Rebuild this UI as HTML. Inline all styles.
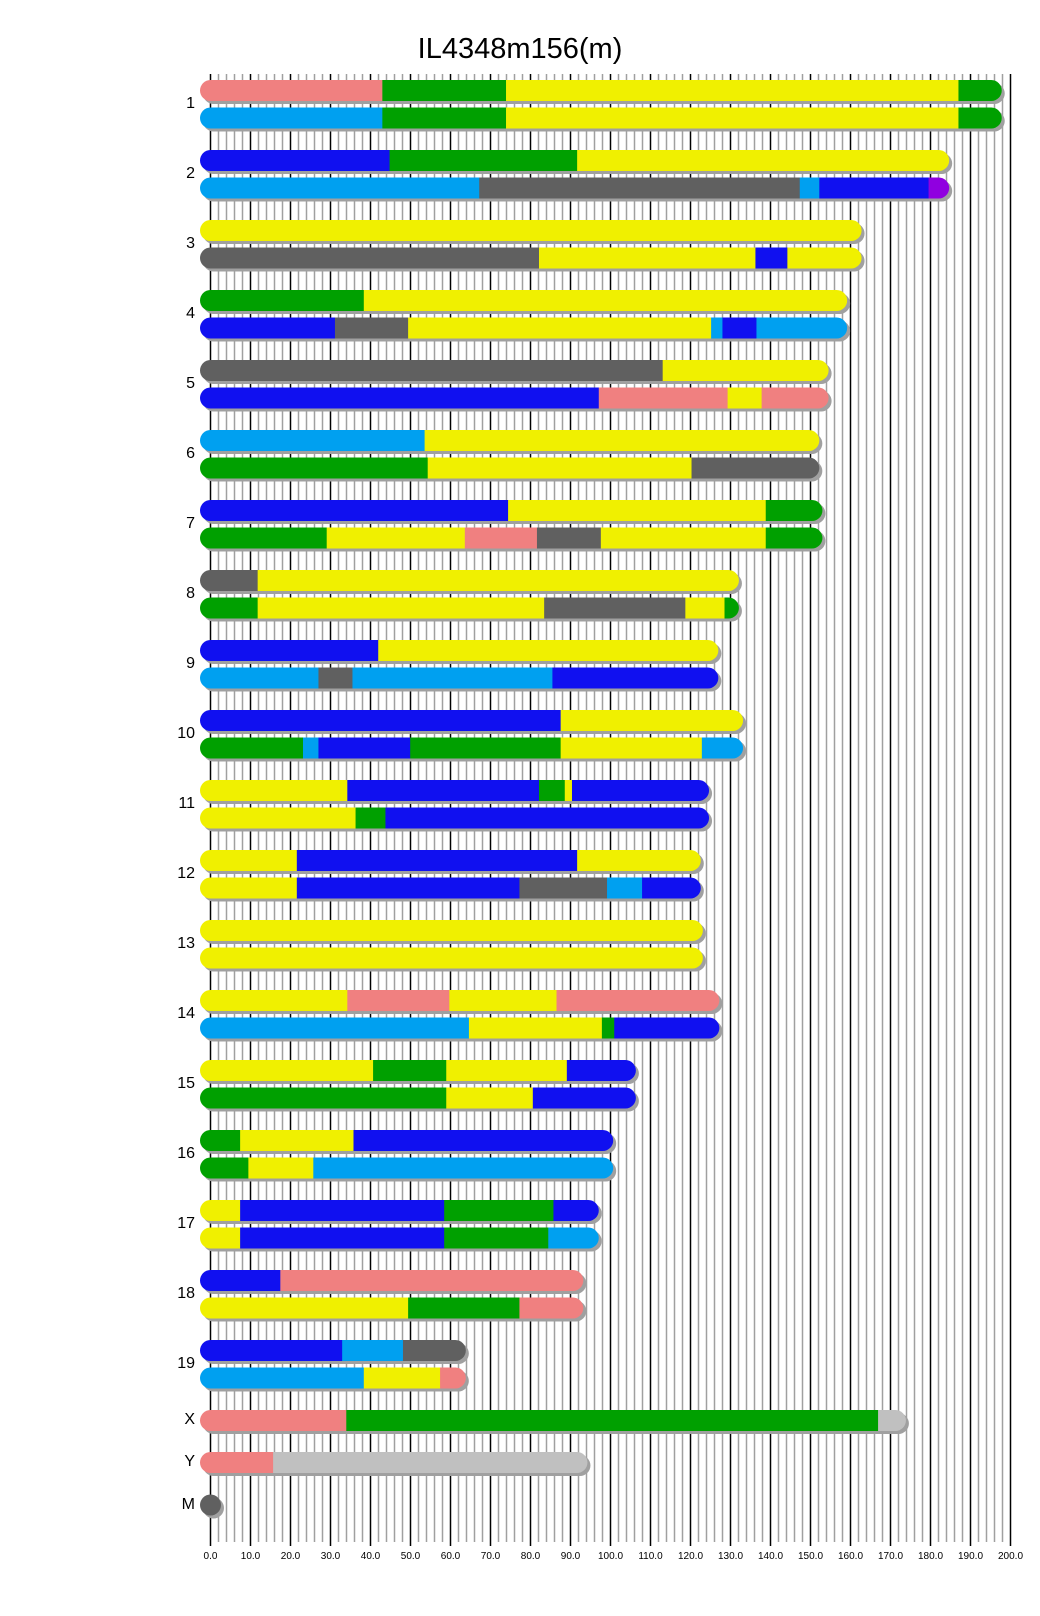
<!DOCTYPE html>
<html><head><meta charset="utf-8"><style>
html,body{margin:0;padding:0;background:#fff;}
svg{display:block;font-family:"Liberation Sans",Arial,sans-serif;}
</style></head><body>
<svg id="s" width="1040" height="1616" xmlns="http://www.w3.org/2000/svg">
<text x="520" y="58" font-size="29" text-anchor="middle" fill="#000">IL4348m156(m)</text>
</svg>
<script>
var s=document.getElementById('s'),NS='http://www.w3.org/2000/svg';
function el(t,a,p){var e=document.createElementNS(NS,t);for(var k in a)e.setAttribute(k,a[k]);(p||s).appendChild(e);return e;}
for(var v=0;v<=200;v+=2){var x=210.5+4*v;var major=v%10==0;
 el('line',{x1:x,x2:x,y1:74,y2:major?1546:1542,stroke:major?'#000':'#a0a0a0','stroke-width':1.5});
 if(major){var t=el('text',{x:x,y:1559,'font-size':10,'text-anchor':'middle',fill:'#000'});t.textContent=v.toFixed(1);}
}
var C={p:'#f08080',g:'#00a000',y:'#f0f000',b:'#1010f0',l:'#00a0f0',d:'#606060',u:'#9000e0',s:'#c0c0c0'};
var R=1.0306;
var data=[
['1',[['p',371],['g',491],['y',930],['g',972]],[['l',371],['g',491],['y',930],['g',972]]],
['2',[['b',378],['g',560],['y',921]],[['l',465],['d',776],['l',795],['b',901],['u',921]]],
['3',[['y',836]],[['d',523],['y',733],['b',764],['y',836]]],
['4',[['g',353],['y',822]],[['b',325],['d',396],['y',690],['l',701],['b',734],['l',822]]],
['5',[['d',643],['y',804]],[['b',581],['p',706],['y',739],['p',804]]],
['6',[['l',412],['y',795]],[['g',415],['y',671],['d',795]]],
['7',[['b',493],['y',743],['g',798]],[['g',317],['y',451],['p',521],['d',583],['y',743],['g',798]]],
['8',[['d',250],['y',717]],[['g',250],['y',528],['d',665],['y',703],['g',717]]],
['9',[['b',367],['y',697]],[['l',309],['d',342],['l',536],['b',697]]],
['10',[['b',544],['y',721]],[['g',294],['l',309],['b',398],['g',544],['y',681],['l',721]]],
['11',[['y',337],['b',523],['g',548],['y',555],['b',688]],[['y',345],['g',374],['b',688]]],
['12',[['y',288],['b',560],['y',680]],[['y',288],['b',504],['d',589],['l',623],['b',680]]],
['13',[['y',682]],[['y',682]]],
['14',[['y',337],['p',436],['y',540],['p',698]],[['l',455],['y',584],['g',596],['b',698]]],
['15',[['y',362],['g',433],['y',550],['b',617]],[['g',433],['y',517],['b',617]]],
['16',[['g',233],['y',343],['b',595]],[['g',241],['y',304],['l',595]]],
['17',[['y',233],['b',431],['g',537],['b',581]],[['y',233],['b',431],['g',532],['l',581]]],
['18',[['b',272],['p',566]],[['y',396],['g',504],['p',566]]],
['19',[['b',332],['l',391],['d',452]],[['l',353],['y',427],['p',452]]]
];
var cid=0;
function bar(y,segs){
 var x0=200,x1=segs[segs.length-1][1]*R,h=21;
 el('rect',{x:x0+3,y:y+3,width:x1-x0,height:h,rx:10.5,ry:10.5,fill:'#a0a0a0'});
 var id='c'+(cid++);var cp=el('clipPath',{id:id});
 el('rect',{x:x0,y:y,width:x1-x0,height:h,rx:10.5,ry:10.5},cp);
 var g=el('g',{'clip-path':'url(#'+id+')'});var px=x0;
 segs.forEach(function(sg){var e=sg[1]*R;el('rect',{x:px,y:y,width:e-px+0.5,height:h,fill:C[sg[0]]},g);px=e;});
}
function label(txt,yc){var t=el('text',{x:195,y:yc+4,'font-size':16,'text-anchor':'end',fill:'#000'});t.textContent=txt;}
data.forEach(function(d,i){var y=80+70*i;bar(y,d[1]);bar(y+27.5,d[2]);label(d[0],y+24);});
bar(1410,[['p',336],['g',852],['s',879]]);label('X',1420);
bar(1452,[['p',265],['s',570]]);label('Y',1462);
el('circle',{cx:213.5,cy:1508,r:10.5,fill:'#a0a0a0'});
el('circle',{cx:210.5,cy:1505,r:10.5,fill:'#606060'});label('M',1505);
</script>
</body></html>
